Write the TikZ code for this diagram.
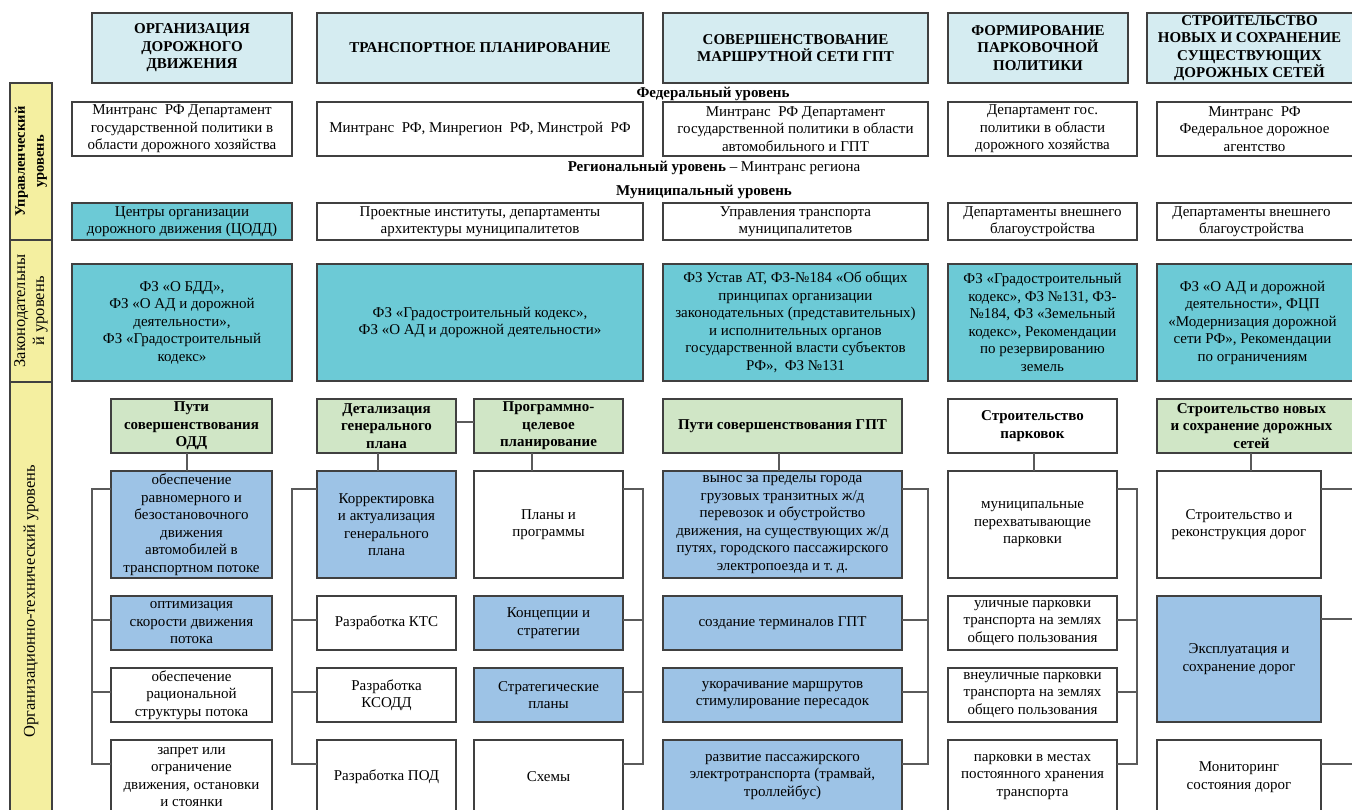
\documentclass[tikz,border=0pt]{standalone}
\usepackage{fontspec}
\setmainfont{Liberation Serif}
\definecolor{cHdr}{HTML}{D5ECF1}
\definecolor{cTeal}{HTML}{6CCAD6}
\definecolor{cGreen}{HTML}{D0E6C6}
\definecolor{cBlue}{HTML}{9DC3E6}
\definecolor{cYel}{HTML}{F4EFA0}
\definecolor{cLine}{HTML}{404040}
\definecolor{cConn}{HTML}{5A5A5A}
\newcommand\fsz{\fontsize{15}{17.5}\selectfont}
\newcommand\fsside{\fontsize{16.5}{19}\selectfont}
\newcommand\fssideb{\fontsize{14.5}{19}\selectfont}
\tikzset{
  box/.style={draw=cLine, line width=1.2pt, inner sep=1pt, outer sep=0pt, align=center, font=\fsz},
  hdr/.style={fill=cHdr, font=\fsz\bfseries},
  tealb/.style={fill=cTeal},
  greenb/.style={fill=cGreen, font=\fsz\bfseries},
  boldw/.style={fill=white, font=\fsz\bfseries},
  blueb/.style={fill=cBlue},
  whiteb/.style={fill=white},
  side/.style={draw=cLine, line width=1.2pt, fill=cYel, inner sep=1pt, outer sep=0pt, align=center, font=\fsside, rotate=90},
  conn/.style={draw=cConn, line width=1.4pt},
  lvl/.style={font=\fsz\bfseries, inner sep=0pt}
}
\newcommand\bx[7]{\node[box,#6,minimum width={#4-#2},minimum height={#5-#3}] (#1) at ({(#2+#4)/2},{(#3+#5)/2}) {#7};}
\begin{document}
\begin{tikzpicture}[x=1pt,y=-1pt]
\useasboundingbox (0,0) rectangle (1352,810);
\fill[white] (0,0) rectangle (1352,810);
\clip (0,0) rectangle (1352,810);

% sidebar
\node[side, font=\fssideb\bfseries, minimum width=157, minimum height=42] (s1) at (31,161.5) {Управленческий\\уровень};
\node[side, minimum width=142, minimum height=42] (s2) at (31,311) {Законодательны\\й уровень};
\node[side, minimum width=438, minimum height=42] (s3) at (31,601) {Организационно-технический уровень};

% headers
\bx{h1}{92}{13}{292}{83}{hdr}{ОРГАНИЗАЦИЯ\\ДОРОЖНОГО\\ДВИЖЕНИЯ}
\bx{h2}{317}{13}{643}{83}{hdr}{ТРАНСПОРТНОЕ ПЛАНИРОВАНИЕ}
\bx{h3}{663}{13}{928}{83}{hdr}{СОВЕРШЕНСТВОВАНИЕ\\МАРШРУТНОЙ СЕТИ ГПТ}
\bx{h4}{948}{13}{1128}{83}{hdr}{ФОРМИРОВАНИЕ\\ПАРКОВОЧНОЙ\\ПОЛИТИКИ}
\bx{h5}{1147}{13}{1358}{83}{hdr}{\hspace*{-6pt}СТРОИТЕЛЬСТВО\\\hspace*{-6pt}НОВЫХ И СОХРАНЕНИЕ\\\hspace*{-6pt}СУЩЕСТВУЮЩИХ\\\hspace*{-6pt}ДОРОЖНЫХ СЕТЕЙ}

% level labels
\node[lvl] (lf) at (713,94) {Федеральный уровень};
\node[lvl] (lr) at (714,168) {Региональный уровень {\mdseries – Минтранс региона}};
\node[lvl] (lm) at (704,192) {Муниципальный уровень};

% federal
\bx{f1}{72}{102}{292}{156}{whiteb}{Минтранс~ РФ Департамент\\государственной политики в\\области дорожного хозяйства}
\bx{f2}{317}{102}{643}{156}{whiteb}{Минтранс~ РФ, Минрегион~ РФ, Минстрой~ РФ}
\bx{f3}{663}{102}{928}{156}{whiteb}{Минтранс~ РФ Департамент\\государственной политики в области\\автомобильного и ГПТ}
\bx{f4}{948}{102}{1137}{156}{whiteb}{Департамент гос.\\политики в области\\дорожного хозяйства}
\bx{f5}{1157}{102}{1358}{156}{whiteb}{\hspace*{-6pt}Минтранс~ РФ\\\hspace*{-6pt}Федеральное дорожное\\\hspace*{-6pt}агентство}

% municipal
\bx{m1}{72}{203}{292}{240}{tealb}{Центры организации\\дорожного движения (ЦОДД)}
\bx{m2}{317}{203}{643}{240}{whiteb}{Проектные институты, департаменты\\архитектуры муниципалитетов}
\bx{m3}{663}{203}{928}{240}{whiteb}{Управления транспорта\\муниципалитетов}
\bx{m4}{948}{203}{1137}{240}{whiteb}{Департаменты внешнего\\благоустройства}
\bx{m5}{1157}{203}{1358}{240}{whiteb}{\hspace*{-12pt}Департаменты внешнего\\\hspace*{-12pt}благоустройства}

% legislative
\bx{l1}{72}{264}{292}{381}{tealb}{ФЗ «О БДД»,\\ФЗ «О АД и дорожной\\деятельности»,\\ФЗ «Градостроительный\\кодекс»}
\bx{l2}{317}{264}{643}{381}{tealb}{ФЗ «Градостроительный кодекс»,\\ФЗ «О АД и дорожной деятельности»}
\bx{l3}{663}{264}{928}{381}{tealb}{ФЗ Устав АТ, ФЗ-№184 «Об общих\\принципах организации\\законодательных (представительных)\\и исполнительных органов\\государственной власти субъектов\\РФ»,~ ФЗ №131}
\bx{l4}{948}{264}{1137}{381}{tealb}{ФЗ «Градостроительный\\кодекс», ФЗ №131, ФЗ-\\№184, ФЗ «Земельный\\кодекс», Рекомендации\\по резервированию\\земель}
\bx{l5}{1157}{264}{1358}{381}{tealb}{\hspace*{-10pt}ФЗ «О АД и дорожной\\\hspace*{-10pt}деятельности», ФЦП\\\hspace*{-10pt}«Модернизация дорожной\\\hspace*{-10pt}сети РФ», Рекомендации\\\hspace*{-10pt}по ограничениям}

% organisational headers
\bx{g1}{111}{399}{272}{453}{greenb}{Пути\\совершенствования\\ОДД}
\bx{g2a}{317}{399}{456}{453}{greenb}{Детализация\\генерального\\плана}
\bx{g2b}{474}{399}{623}{453}{greenb}{Программно-\\целевое\\планирование}
\bx{g3}{663}{399}{902}{453}{greenb}{Пути совершенствования ГПТ}
\bx{g4}{948}{399}{1117}{453}{boldw}{Строительство\\парковок}
\bx{g5}{1157}{399}{1358}{453}{greenb}{\hspace*{-12pt}Строительство новых\\\hspace*{-12pt}и сохранение дорожных\\\hspace*{-12pt}сетей}

% column 1 items
\bx{a1}{111}{471}{272}{578}{blueb}{обеспечение\\равномерного и\\безостановочного\\движения\\автомобилей в\\транспортном потоке}
\bx{a2}{111}{596}{272}{650}{blueb}{оптимизация\\скорости движения\\потока}
\bx{a3}{111}{668}{272}{722}{whiteb}{обеспечение\\рациональной\\структуры потока}
\bx{a4}{111}{740}{272}{814}{whiteb}{запрет или\\ограничение\\движения, остановки\\и стоянки}

% column 2a items
\bx{b1}{317}{471}{456}{578}{blueb}{Корректировка\\и актуализация\\генерального\\плана}
\bx{b2}{317}{596}{456}{650}{whiteb}{Разработка КТС}
\bx{b3}{317}{668}{456}{722}{whiteb}{Разработка\\КСОДД}
\bx{b4}{317}{740}{456}{814}{whiteb}{Разработка ПОД}

% column 2b items
\bx{c1}{474}{471}{623}{578}{whiteb}{Планы и\\программы}
\bx{c2}{474}{596}{623}{650}{blueb}{Концепции и\\стратегии}
\bx{c3}{474}{668}{623}{722}{blueb}{Стратегические\\планы}
\bx{c4}{474}{740}{623}{814}{whiteb}{Схемы}

% column 3 items
\bx{d1}{663}{471}{902}{578}{blueb}{вынос за пределы города\\грузовых транзитных ж/д\\перевозок и обустройство\\движения, на существующих ж/д\\путях, городского пассажирского\\электропоезда и т.~д.}
\bx{d2}{663}{596}{902}{650}{blueb}{создание терминалов ГПТ}
\bx{d3}{663}{668}{902}{722}{blueb}{укорачивание маршрутов\\стимулирование пересадок}
\bx{d4}{663}{740}{902}{814}{blueb}{развитие пассажирского\\электротранспорта (трамвай,\\троллейбус)}

% column 4 items
\bx{e1}{948}{471}{1117}{578}{whiteb}{муниципальные\\перехватывающие\\парковки}
\bx{e2}{948}{596}{1117}{650}{whiteb}{уличные парковки\\транспорта на землях\\общего пользования}
\bx{e3}{948}{668}{1117}{722}{whiteb}{внеуличные парковки\\транспорта на землях\\общего пользования}
\bx{e4}{948}{740}{1117}{814}{whiteb}{парковки в местах\\постоянного хранения\\транспорта}

% column 5 items
\bx{k1}{1157}{471}{1321}{578}{whiteb}{Строительство и\\реконструкция дорог}
\bx{k2}{1157}{596}{1321}{722}{blueb}{Эксплуатация и\\сохранение дорог}
\bx{k3}{1157}{740}{1321}{814}{whiteb}{Мониторинг\\состояния дорог}

% vertical connectors from headers
\coordinate (v1) at (187,0);
\coordinate (v2) at (378,0);
\coordinate (v3) at (532,0);
\coordinate (v4) at (779,0);
\coordinate (v5) at (1034,0);
\coordinate (v6) at (1251,0);
\draw[conn] (g1.south -| v1) -- (a1.north -| v1);
\draw[conn] (g2a.south -| v2) -- (b1.north -| v2);
\draw[conn] (g2b.south -| v3) -- (c1.north -| v3);
\draw[conn] (g3.south -| v4) -- (d1.north -| v4);
\draw[conn] (g4.south -| v5) -- (e1.north -| v5);
\draw[conn] (g5.south -| v6) -- (k1.north -| v6);
\draw[conn] ([yshift=4pt]g2a.east) -- ([yshift=4pt]g2b.west);

% brackets
\draw[conn] ([yshift=-18pt]a1.north west) -- ++(-19,0) |- ([yshift=-24pt]a4.north west);
\draw[conn] ([yshift=3pt]a2.west) -- ++(-19,0);
\draw[conn] ([yshift=3pt]a3.west) -- ++(-19,0);

\draw[conn] ([yshift=-18pt]b1.north west) -- ++(-25,0) |- ([yshift=-24pt]b4.north west);
\draw[conn] ([yshift=3pt]b2.west) -- ++(-25,0);
\draw[conn] ([yshift=3pt]b3.west) -- ++(-25,0);

\draw[conn] ([yshift=-18pt]c1.north east) -- ++(20,0) |- ([yshift=-24pt]c4.north east);
\draw[conn] ([yshift=3pt]c2.east) -- ++(20,0);
\draw[conn] ([yshift=3pt]c3.east) -- ++(20,0);

\draw[conn] ([yshift=-18pt]d1.north east) -- ++(26,0) |- ([yshift=-24pt]d4.north east);
\draw[conn] ([yshift=3pt]d2.east) -- ++(26,0);
\draw[conn] ([yshift=3pt]d3.east) -- ++(26,0);

\draw[conn] ([yshift=-18pt]e1.north east) -- ++(20,0) |- ([yshift=-24pt]e4.north east);
\draw[conn] ([yshift=3pt]e2.east) -- ++(20,0);
\draw[conn] ([yshift=3pt]e3.east) -- ++(20,0);

\draw[conn] ([yshift=-18pt]k1.north east) -- ++(45,0) |- ([yshift=-24pt]k3.north east);
\draw[conn] ([yshift=-23pt]k2.north east) -- ++(45,0);
\end{tikzpicture}
\end{document}
